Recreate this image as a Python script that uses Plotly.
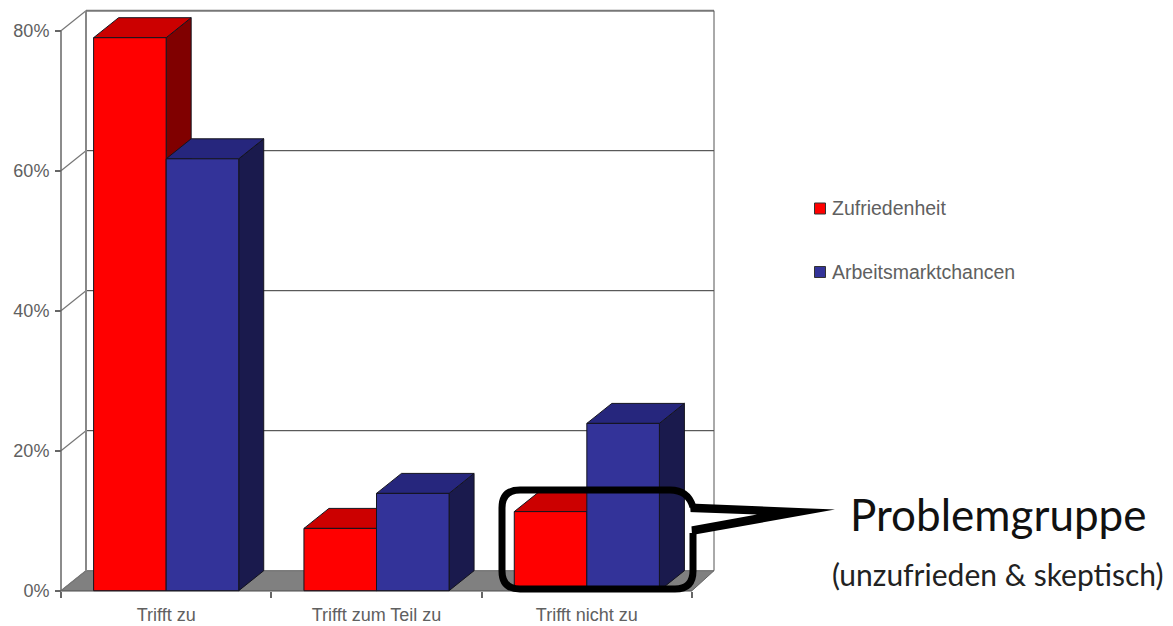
import plotly.graph_objects as go

# Survey answers and the two measured series, in percent
categories = ["Trifft zu", "Trifft zum Teil zu", "Trifft nicht zu"]
zufriedenheit = [79.0, 8.9, 11.3]
arbeitsmarktchancen = [61.7, 13.9, 23.9]
series_names = ["Zufriedenheit", "Arbeitsmarktchancen"]
y_ticks = [0, 20, 40, 60, 80]
y_tick_labels = ["0%", "20%", "40%", "60%", "80%"]

W, H = 1173, 626
AXIS_LEFT_PX, AXIS_RIGHT_PX = 61, 692
BASE_PX = 590.7
PX_PER_PERCENT = 7.0
PX_PER_CATEGORY = (AXIS_RIGHT_PX - AXIS_LEFT_PX) / len(categories)

# Oblique projection of the pseudo-3D box, expressed in axis units
DEPTH_X = 25 / PX_PER_CATEGORY
DEPTH_Y = 20 / PX_PER_PERCENT
WALL_DEPTH_RIGHT = 22 / PX_PER_CATEGORY
BAR_GAP = 0.31
BAR_W = (1 - BAR_GAP) / 2

AXIS_GREY = "#666666"
EDGE = "#14141e"
RED = dict(front="#ff0000", top="#cc0000", side="#800000")
BLUE = dict(front="#333399", top="#26267d", side="#1a1a4d")
TEXT_GREY = "#606060"
TICK_FONT = dict(family="Liberation Sans", size=18, color=TEXT_GREY)


def poly(points):
    return "M " + " L ".join(f"{x},{y}" for x, y in points) + " Z"


def face(points, fill, line=EDGE, width=1, layer="below"):
    return dict(type="path", xref="x", yref="y", path=poly(points), fillcolor=fill,
                line=dict(color=line, width=width), layer=layer)


def seg(x0, y0, x1, y1, color=AXIS_GREY, width=1.5):
    return dict(type="line", xref="x", yref="y", x0=x0, y0=y0, x1=x1, y1=y1,
                line=dict(color=color, width=width), layer="below")


def px(x, y):
    return f"{x / W},{1 - y / H}"


n = len(categories)
top_y = y_ticks[-1]
wall_right = n + WALL_DEPTH_RIGHT
shapes = []

# Floor, back wall and side wall of the chart box
shapes.append(face([(0, 0), (DEPTH_X, DEPTH_Y), (wall_right, DEPTH_Y), (n, 0)],
                   "#808080", line="#666666"))
for v in y_ticks[1:-1]:
    shapes.append(seg(DEPTH_X, v + DEPTH_Y, wall_right, v + DEPTH_Y, "#333333", 1))
for v in y_ticks:
    shapes.append(seg(0, v, DEPTH_X, v + DEPTH_Y, "#777777", 1.2))
shapes.append(seg(DEPTH_X, DEPTH_Y, DEPTH_X, top_y + DEPTH_Y, "#888888", 2))
shapes.append(seg(DEPTH_X, top_y + DEPTH_Y, wall_right, top_y + DEPTH_Y, "#777777", 2))
shapes.append(seg(wall_right, DEPTH_Y, wall_right, top_y + DEPTH_Y, "#555555", 1))
shapes.append(seg(0, 0, 0, top_y))
shapes.append(seg(0, 0, n, 0))


def box_faces(left, value, colors):
    right = left + BAR_W
    return [
        face([(right, 0), (right + DEPTH_X, DEPTH_Y), (right + DEPTH_X, value + DEPTH_Y),
              (right, value)], colors["side"]),
        face([(left, value), (left + DEPTH_X, value + DEPTH_Y),
              (right + DEPTH_X, value + DEPTH_Y), (right, value)], colors["top"]),
    ]


# Depth faces go group by group so that each later box covers the previous one
for i in range(n):
    centre = i + 0.5
    shapes += box_faces(centre - BAR_W, zufriedenheit[i], RED)
    shapes += box_faces(centre, arbeitsmarktchancen[i], BLUE)

# Speech-bubble callout around the third group
tail_outer = f"M {px(690, 503.5)} L {px(835, 509.5)} L {px(692, 535)} Z"
tail_inner = f"M {px(688, 512)} L {px(757, 514.5)} L {px(688, 527)} Z"
Q = lambda cx, cy, x, y: f"Q {px(cx, cy)} {px(x, y)}"
bubble = " ".join([
    f"M {px(693, 533)}", f"L {px(693, 571)}", Q(693, 589, 675, 589),
    f"L {px(520, 589)}", Q(502, 589, 502, 571),
    f"L {px(502, 508)}", Q(502, 490, 520, 490),
    f"L {px(670, 490)}", Q(688, 490, 693, 507),
])
for path, fill in ((tail_outer, "#000000"), (tail_inner, "#ffffff")):
    shapes.append(dict(type="path", xref="paper", yref="paper", path=path,
                       fillcolor=fill, line=dict(width=0), layer="above"))
shapes.append(dict(type="path", xref="paper", yref="paper", path=bubble,
                   line=dict(color="#000000", width=7), layer="above"))

# Legend block: square swatch followed by the series name
legend_annotations = []
for name, colors, row_y in zip(series_names, (RED, BLUE), (208.5, 272)):
    shapes.append(dict(type="rect", xref="paper", yref="paper",
                       x0=814.5 / W, x1=825.5 / W, y0=1 - (row_y + 5.5) / H, y1=1 - (row_y - 5.5) / H,
                       fillcolor=colors["front"], line=dict(color="#333333", width=1)))
    legend_annotations.append(
        dict(text=name, xref="paper", yref="paper", x=830 / W, y=1 - (row_y - 0.5) / H,
             xanchor="left", yanchor="middle", showarrow=False,
             font=dict(family="Liberation Sans", size=19.5, color=TEXT_GREY)))

centres = [i + 0.5 for i in range(n)]
fig = go.Figure()
fig.add_bar(x=centres, y=zufriedenheit, name=series_names[0],
            marker=dict(color=RED["front"], line=dict(color=EDGE, width=1)))
fig.add_bar(x=centres, y=arbeitsmarktchancen, name=series_names[1],
            marker=dict(color=BLUE["front"], line=dict(color=EDGE, width=1)))

fig.update_layout(
    width=W, height=H, autosize=False,
    margin=dict(l=0, r=0, t=0, b=0),
    paper_bgcolor="#ffffff", plot_bgcolor="#ffffff",
    barmode="group", bargap=BAR_GAP, bargroupgap=0,
    shapes=shapes,
    showlegend=False,
    xaxis=dict(
        range=[-AXIS_LEFT_PX / PX_PER_CATEGORY, (W - AXIS_LEFT_PX) / PX_PER_CATEGORY],
        anchor="free", position=(H - BASE_PX) / H,
        tickmode="array", tickvals=centres, ticktext=categories,
        ticks="", showgrid=False, zeroline=False, showline=False, automargin=False,
        tickfont=TICK_FONT, ticklabelstandoff=11, fixedrange=True,
        minor=dict(tickmode="array", tickvals=list(range(n + 1)), ticks="outside",
                   ticklen=6, tickcolor=AXIS_GREY, tickwidth=1.5, showgrid=False),
    ),
    yaxis=dict(
        range=[-(H - BASE_PX) / PX_PER_PERCENT, BASE_PX / PX_PER_PERCENT],
        anchor="free", position=AXIS_LEFT_PX / W,
        tickmode="array", tickvals=y_ticks, ticktext=y_tick_labels,
        ticks="outside", ticklen=6, tickcolor=AXIS_GREY, tickwidth=1.5,
        showgrid=False, zeroline=False, showline=False, automargin=False,
        tickfont=TICK_FONT, ticklabelstandoff=2, fixedrange=True,
    ),
    annotations=legend_annotations + [
        dict(text="Problemgruppe", xref="paper", yref="paper", x=998.5 / W, y=1 - 514 / H,
             xanchor="center", yanchor="middle", showarrow=False,
             font=dict(family="Lato", size=44, color="#111111")),
        dict(text="(unzufrieden &amp; skeptisch)", xref="paper", yref="paper",
             x=997.5 / W, y=1 - 574 / H, xanchor="center", yanchor="middle", showarrow=False,
             font=dict(family="Lato", size=30, color="#222222")),
    ],
)

fig.write_html("out.html")
